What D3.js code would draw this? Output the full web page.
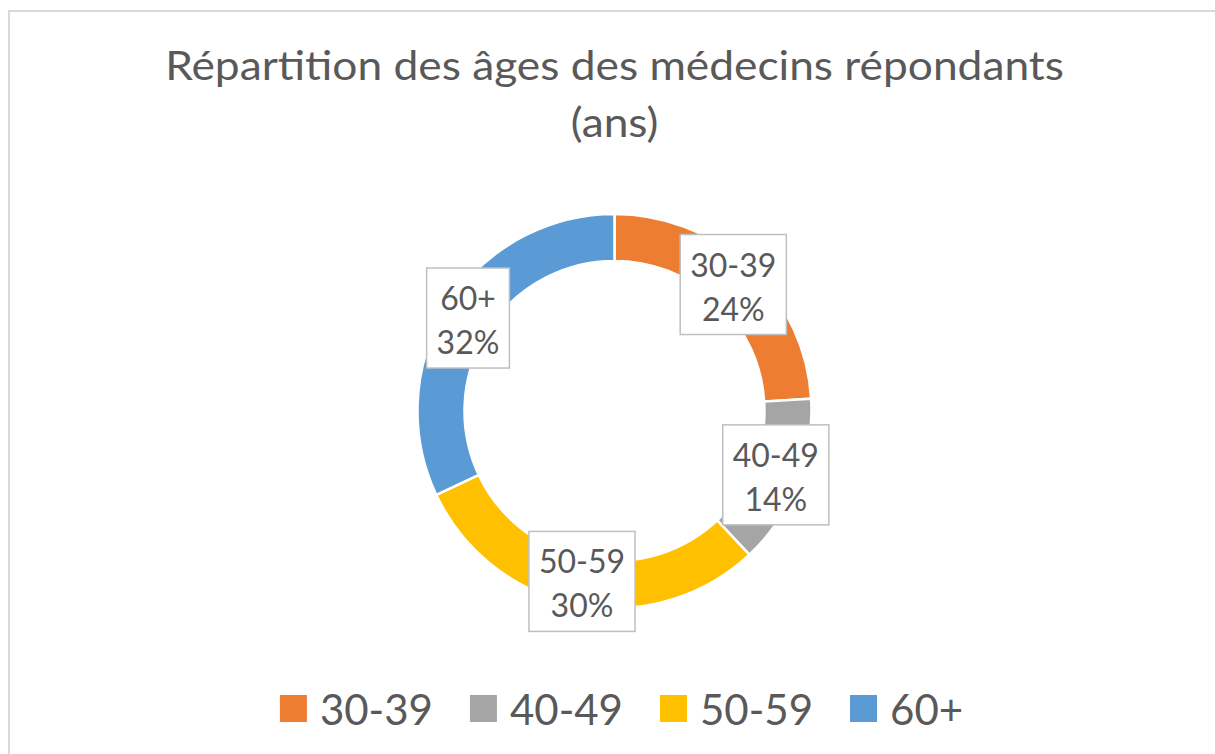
<!DOCTYPE html>
<html lang="fr">
<head>
    <meta charset="UTF-8">
    <title>Répartition des âges des médecins répondants</title>
    <script src="https://d3js.org/d3.v7.min.js"></script>
    <style>
        body { margin: 0; background: #fff; }
        text {
            font-family: Lato, "Open Sans", sans-serif;
            fill: #595959;
        }
        .title { font-size: 40px; text-anchor: middle; }
        .label { font-size: 32px; text-anchor: middle; }
        .legend { font-size: 42px; }
        .label-box { fill: #fff; stroke: #bfbfbf; stroke-width: 1.5; }
    </style>
</head>
<body>

<svg width="1215" height="754"></svg>

<script>
    // data
    const categories = ["30-39", "40-49", "50-59", "60+"];
    const values = [24, 14, 30, 32];
    const colors = ["#ED7D31", "#A5A5A5", "#FFC000", "#5B9BD5"];
    const titleLines = ["Répartition des âges des médecins répondants", "(ans)"];

    const svg = d3.select("svg");

    // chart border (right and bottom edges fall outside the picture)
    svg.append("rect")
        .attr("x", 9).attr("y", 11)
        .attr("width", 1400).attr("height", 1000)
        .attr("fill", "none")
        .attr("stroke", "#d9d9d9")
        .attr("stroke-width", 2);

    // title, stretched a little to the width of the original
    const titleG = svg.append("g");
    const titles = titleG.selectAll(".title")
        .data(titleLines)
        .join("text")
        .attr("class", "title")
        .attr("x", 0)
        .attr("y", (d, i) => 80 + i * 57)
        .text(d => d);
    const sx = 899 / titles.node().getComputedTextLength();
    titleG.attr("transform", `translate(614.5,0) scale(${sx},1)`);

    // donut
    const cx = 614.5, cy = 411;
    const outerR = 197, innerR = 150;

    const pie = d3.pie().sort(null).value(d => d.value);
    const arcs = pie(categories.map((c, i) => ({ name: c, value: values[i], color: colors[i] })));

    const arc = d3.arc().innerRadius(innerR).outerRadius(outerR);
    const labelArc = d3.arc().innerRadius((innerR + outerR) / 2).outerRadius((innerR + outerR) / 2);

    const g = svg.append("g").attr("transform", `translate(${cx},${cy})`);

    g.selectAll("path")
        .data(arcs)
        .join("path")
        .attr("d", arc)
        .attr("fill", d => d.data.color)
        .attr("stroke", "#fff")
        .attr("stroke-width", 2.5);

    // data labels in boxes
    const total = d3.sum(values);
    const lineGap = 44;

    arcs.forEach(d => {
        const [lx, ly] = labelArc.centroid(d);
        const lg = g.append("g").attr("transform", `translate(${lx},${ly})`);
        const box = lg.append("rect").attr("class", "label-box");
        const lines = [d.data.name, Math.round(d.data.value / total * 100) + "%"];
        const texts = lg.selectAll("text.label")
            .data(lines)
            .join("text")
            .attr("class", "label")
            .attr("x", 0)
            .attr("y", (t, i) => -8 + i * lineGap)
            .text(t => t);
        let w = 0;
        texts.each(function () { w = Math.max(w, this.getComputedTextLength()); });
        const bw = w + 20, bh = 100;
        box.attr("x", -bw / 2).attr("y", -bh / 2)
            .attr("width", bw).attr("height", bh);
    });

    // legend
    const sq = 27, sqGap = 13, itemGap = 37;
    const legendY = 725;
    const lgd = svg.append("g");
    let x = 0;
    categories.forEach((c, i) => {
        lgd.append("rect")
            .attr("x", x).attr("y", legendY - 30)
            .attr("width", sq).attr("height", sq)
            .attr("fill", colors[i]);
        const t = lgd.append("text")
            .attr("class", "legend")
            .attr("x", x + sq + sqGap)
            .attr("y", legendY)
            .text(c);
        x += sq + sqGap + t.node().getComputedTextLength() + itemGap;
    });
    const legendWidth = x - itemGap;
    lgd.attr("transform", `translate(${621.5 - legendWidth / 2},0)`);
</script>

</body>
</html>
